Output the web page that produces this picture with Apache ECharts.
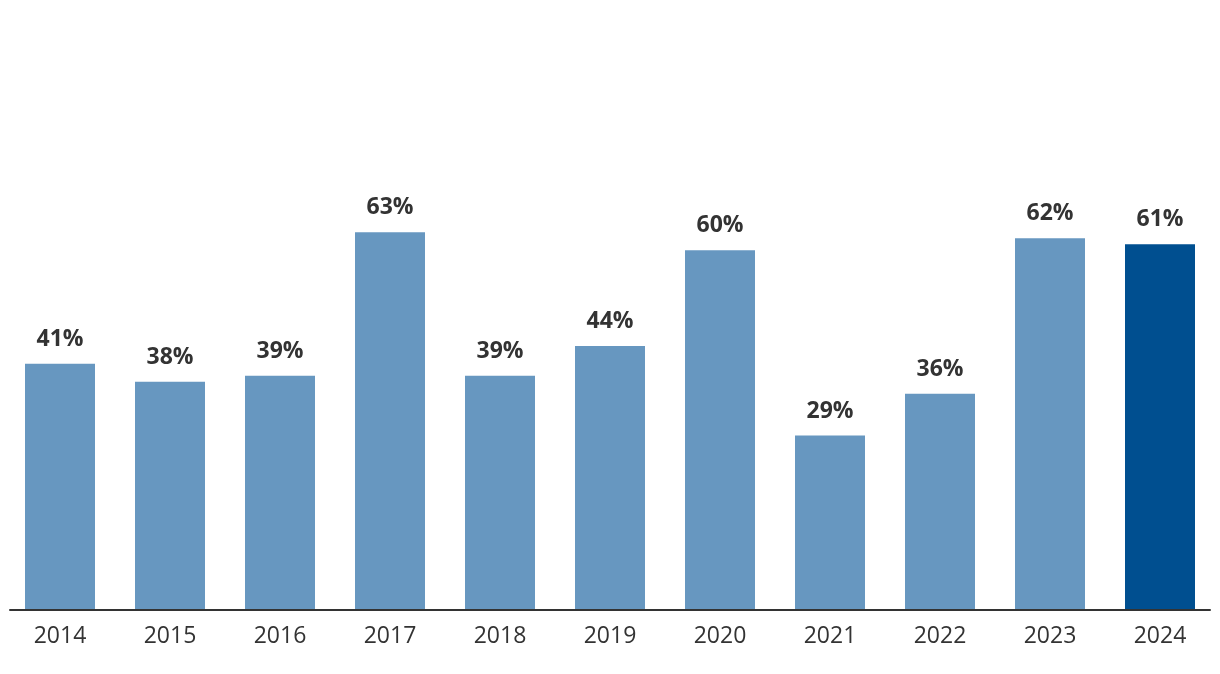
<!DOCTYPE html>
<html>
<head>
<meta charset="utf-8">
<script src="https://cdn.jsdelivr.net/npm/echarts@6/dist/echarts.min.js"></script>
<style>
html,body{margin:0;padding:0;background:#fff;}
#chart{width:1220px;height:674px;}
</style>
</head>
<body>
<div id="chart"></div>
<script>
const categories = ['2014','2015','2016','2017','2018','2019','2020','2021','2022','2023','2024'];
const values = [41, 38, 39, 63, 39, 44, 60, 29, 36, 62, 61];
const highlightCategory = '2024';

const chart = echarts.init(document.getElementById('chart'));
chart.setOption({
  animation: false,
  grid: [
    { left: 5, right: 5, top: 11, bottom: 65, containLabel: false },
    { left: 10, right: 10, top: 11, bottom: 64.5, containLabel: false }
  ],
  xAxis: [{
    type: 'category',
    gridIndex: 0,
    data: categories,
    axisLine: { show: false },
    axisTick: { show: false },
    axisLabel: { color: '#333', fontSize: 23, fontFamily: 'Open Sans', margin: 16 }
  }, {
    type: 'category',
    gridIndex: 1,
    data: [],
    axisLine: { show: true, lineStyle: { color: '#333', width: 2 } },
    axisTick: { show: false },
    axisLabel: { show: false }
  }],
  yAxis: [{
    type: 'value', gridIndex: 0, min: 0, max: 100,
    show: false, splitLine: { show: false }
  }, {
    type: 'value', gridIndex: 1, min: 0, max: 100,
    show: false, splitLine: { show: false }
  }],
  series: [{
    type: 'bar',
    xAxisIndex: 0, yAxisIndex: 0,
    barWidth: 70,
    data: values.map((v, i) => ({
      value: v,
      itemStyle: { color: categories[i] === highlightCategory ? '#004f90' : '#6797c0' }
    })),
    label: {
      show: true, position: 'top', distance: 13,
      formatter: p => p.value + '%',
      color: '#333', fontSize: 23, fontWeight: 'bold', fontFamily: 'Open Sans'
    }
  }]
});
</script>
</body>
</html>
